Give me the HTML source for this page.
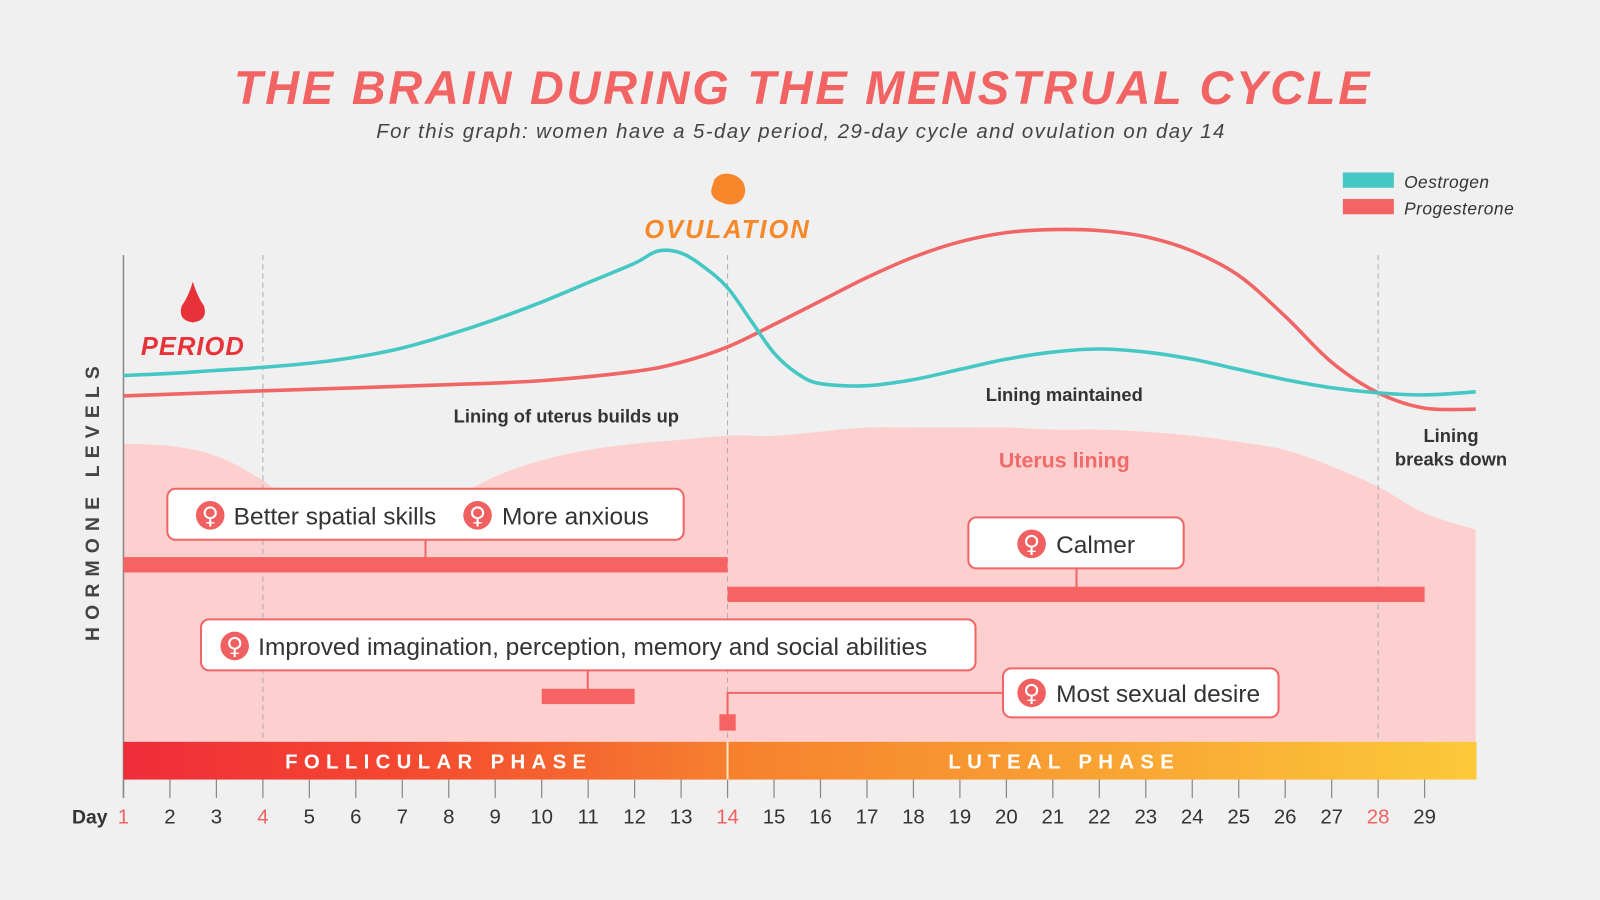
<!DOCTYPE html>
<html><head><meta charset="utf-8">
<style>
html,body{margin:0;padding:0;background:#f0f0f0;}
svg{display:block;font-family:"Liberation Sans",sans-serif;}
</style></head>
<body>
<svg id="chart" width="1600" height="900" viewBox="0 0 1600 900" xmlns="http://www.w3.org/2000/svg">
<defs>
<linearGradient id="phaseGrad" x1="121" x2="1447" y1="0" y2="0" gradientUnits="userSpaceOnUse">
<stop offset="0" stop-color="#ef2d3a"/><stop offset="0.2" stop-color="#f4472f"/><stop offset="0.45" stop-color="#f6812f"/><stop offset="0.7" stop-color="#f8a032"/><stop offset="1" stop-color="#fcc93a"/>
</linearGradient>
</defs>
<rect width="1600" height="900" fill="#f0f0f0"/>
<g id="root" transform="scale(1.0204)">
<text x="787" y="102" text-anchor="middle" font-size="46" font-weight="bold" font-style="italic" fill="#f26363" letter-spacing="2.7">THE BRAIN DURING THE MENSTRUAL CYCLE</text>
<text x="785" y="135" text-anchor="middle" font-size="20" font-style="italic" fill="#444" letter-spacing="1.4">For this graph: women have a 5-day period, 29-day cycle and ovulation on day 14</text>
<g>
<rect x="1316" y="169" width="50" height="15" fill="#45c7c3"/>
<text x="1376" y="184" font-size="17" font-style="italic" fill="#333" letter-spacing="0.5">Oestrogen</text>
<rect x="1316" y="195" width="50" height="15" fill="#f36464"/>
<text x="1376" y="210" font-size="17" font-style="italic" fill="#333" letter-spacing="0.5">Progesterone</text>
</g>
<g id="lining"></g>
<g id="grid"></g>
<g id="lines"></g>
<g>
<path d="M700 176 Q706 168 718 171 Q732 176 730 190 Q726 202 712 200 Q696 196 697 186 Z" fill="#f7862a"/>
<text x="713" y="233" text-anchor="middle" font-size="25" font-weight="bold" font-style="italic" fill="#f5892a" letter-spacing="2">OVULATION</text>
</g>
<g>
<path d="M189 276 Q185 290 178 300 Q174 314 189 316 Q204 314 200 300 Q193 290 189 276 Z" fill="#e8323a"/>
<text x="189" y="348" text-anchor="middle" font-size="25" font-weight="bold" font-style="italic" fill="#e8323a" letter-spacing="1">PERIOD</text>
</g>
<text transform="translate(97,490) rotate(-90)" text-anchor="middle" font-size="19" font-weight="bold" fill="#444" letter-spacing="7">HORMONE LEVELS</text>
<text x="555" y="414" text-anchor="middle" font-size="18" font-weight="bold" fill="#333">Lining of uterus builds up</text>
<text x="1043" y="393" text-anchor="middle" font-size="18" font-weight="bold" fill="#333">Lining maintained</text>
<text x="1422" y="433" text-anchor="middle" font-size="18" font-weight="bold" fill="#333">Lining</text>
<text x="1422" y="456" text-anchor="middle" font-size="18" font-weight="bold" fill="#333">breaks down</text>
<text x="1043" y="458" text-anchor="middle" font-size="21" font-weight="bold" fill="#f06a6a">Uterus lining</text>
<g id="effects"></g>
<g>
<rect x="121" y="727" width="1326" height="37" fill="url(#phaseGrad)"/>
<line x1="713" y1="727" x2="713" y2="764" stroke="#fde3c0" stroke-width="2"/>
<text x="430" y="753" text-anchor="middle" font-size="20" font-weight="bold" fill="#fff" letter-spacing="6.2">FOLLICULAR PHASE</text>
<text x="1043" y="753" text-anchor="middle" font-size="20" font-weight="bold" fill="#fff" letter-spacing="6.2">LUTEAL PHASE</text>
</g>
<g id="axis"></g>
</g>
</svg>
<script>
const NS="http://www.w3.org/2000/svg";
const days=[1,2,3,4,5,6,7,8,9,10,11,12,12.5,13,13.5,14,14.5,15,15.5,16,17,18,19,20,21,22,23,24,25,26,27,28,29,30.1];
const oestrogen=[26,27,28.5,30,32,35,39.5,46,53.5,62,71.5,81,87,86,79,69,53,37,27,22,21,24,29,34,37.5,39,37.5,34,29,24,20,17.5,16.5,18];
const progDays=[1,4,8,10,12,13,14,15,16,17,18,19,20,21,22,23,24,25,26,27,28,29,30.1];
const progesterone=[16,18.5,21.5,23.5,28,32.5,40,51,62.5,74,84,91.5,96,97.5,97,94,87,75,55,32.5,17.5,10,9.5];
const liningDays=[1,2,3,4,5,6,7,8,9,10,11,12,13,14,15,16,17,18,19,20,21,22,23,24,25,26,27,28,29,30.1];
const liningThickness=[146,145,140,128,110,100,105,118,130,138,143,146,148,150,150,152,154,154,154,154,153,153,152,150,147,143,135,125,112,104];
const tickDays=[1,2,3,4,5,6,7,8,9,10,11,12,13,14,15,16,17,18,19,20,21,22,23,24,25,26,27,28,29];
const highlightDays=[1,4,14,28];

const x=d=>121+(d-1)*45.54;
const y=v=>420-v*2;
const yl=v=>727-v*2;
function mk(tag,attrs,parent){const e=document.createElementNS(NS,tag);for(const k in attrs)e.setAttribute(k,attrs[k]);parent.appendChild(e);return e;}
function smooth(pts){let d=`M${pts[0][0]},${pts[0][1]}`;for(let i=0;i<pts.length-1;i++){const p0=pts[i-1]||pts[i],p1=pts[i],p2=pts[i+1],p3=pts[i+2]||p2;
const c1=[p1[0]+(p2[0]-p0[0])/6,p1[1]+(p2[1]-p0[1])/6],c2=[p2[0]-(p3[0]-p1[0])/6,p2[1]-(p3[1]-p1[1])/6];
d+=` C${c1[0]},${c1[1]} ${c2[0]},${c2[1]} ${p2[0]},${p2[1]}`;}return d;}

const lg=document.getElementById('lining');
const lp=liningDays.map((d,i)=>[x(d),yl(liningThickness[i])]);
const area=mk('path',{d:smooth(lp)+` L${x(30.1)},727 L${x(1)},727 Z`,fill:'#fdd0cf'},lg);



const gg=document.getElementById('grid');
[4,14,28].forEach(d=>{const l=mk('line',{x1:x(d),x2:x(d),y1:250,y2:727,stroke:'#aaa','stroke-width':1,'stroke-dasharray':'5,4'},gg);

});
const ax=mk('line',{x1:121,x2:121,y1:250,y2:782,stroke:'#888','stroke-width':1.5},gg);



const lines=document.getElementById('lines');
const pl=mk('path',{d:smooth(progDays.map((d,i)=>[x(d),y(progesterone[i])])),fill:'none',stroke:'#f06565','stroke-width':3.5},lines);


const ol=mk('path',{d:smooth(days.map((d,i)=>[x(d),y(oestrogen[i])])),fill:'none',stroke:'#45c7c3','stroke-width':3.5},lines);



const axg=document.getElementById('axis');
const dl=mk('text',{x:88,y:807,'text-anchor':'middle','font-size':19,'font-weight':'bold',fill:'#333'},axg);dl.textContent='Day';


tickDays.forEach(d=>{const t=mk('line',{x1:x(d),x2:x(d),y1:764,y2:782,stroke:'#888','stroke-width':1.2},axg);


const hl=highlightDays.includes(d);
const tx=mk('text',{x:x(d),y:807,'text-anchor':'middle','font-size':20,fill:hl?'#f06262':'#333'},axg);tx.textContent=d;

});

const eg=document.getElementById('effects');
const C='#f06565';
function bar(x1,y1,w,h,name){const r=mk('rect',{x:x1,y:y1,width:w,height:h,fill:'#f76262'},eg);}
function conn(d,name){const p=mk('path',{d:d,stroke:C,'stroke-width':2,fill:'none'},eg);}
function icon(cx,cy,name){const c=mk('circle',{cx:cx,cy:cy,r:14,fill:'#f06060'},eg);
const t=mk('text',{x:cx,y:cy+8,'text-anchor':'middle','font-size':23,'font-weight':'bold',fill:'#fff','font-family':'DejaVu Sans, sans-serif'},eg);t.textContent='♀';
}
function box(x1,y1,w,h,name){const r=mk('rect',{x:x1,y:y1,width:w,height:h,rx:8,fill:'#fff',stroke:C,'stroke-width':2},eg);}
function txt(x1,y1,s,name){const t=mk('text',{x:x1,y:y1,'font-size':24,fill:'#333'},eg);t.textContent=s;}

conn('M417 529 L417 547','spatial-connector');
bar(x(1),546,x(14)-x(1),15,'follicular-effect-bar');
box(164,479,506,50,'spatial-anxious-box');
icon(206,505,'spatial-icon');txt(229,514,'Better spatial skills','spatial-skills-text');
icon(468,505,'anxious-icon');txt(492,514,'More anxious','more-anxious-text');

conn('M1055 557 L1055 576','calmer-connector');
bar(x(14),575,x(29)-x(14),15,'luteal-effect-bar');
box(949,507,211,50,'calmer-box');
icon(1011,533,'calmer-icon');txt(1035,542,'Calmer','calmer-text');

conn('M576 657 L576 676','imagination-connector');
bar(x(10),675,x(12)-x(10),15,'imagination-bar');
box(197,607,759,50,'imagination-box');
icon(230,633,'imagination-icon');txt(253,642,'Improved imagination, perception, memory and social abilities','imagination-text');

conn('M983 679 L713 679 L713 702','desire-connector');
bar(705,700,16,16,'desire-marker');
box(983,655,270,48,'desire-box');
icon(1011,679,'desire-icon');txt(1035,688,'Most sexual desire','desire-text');
</script>
</body></html>
